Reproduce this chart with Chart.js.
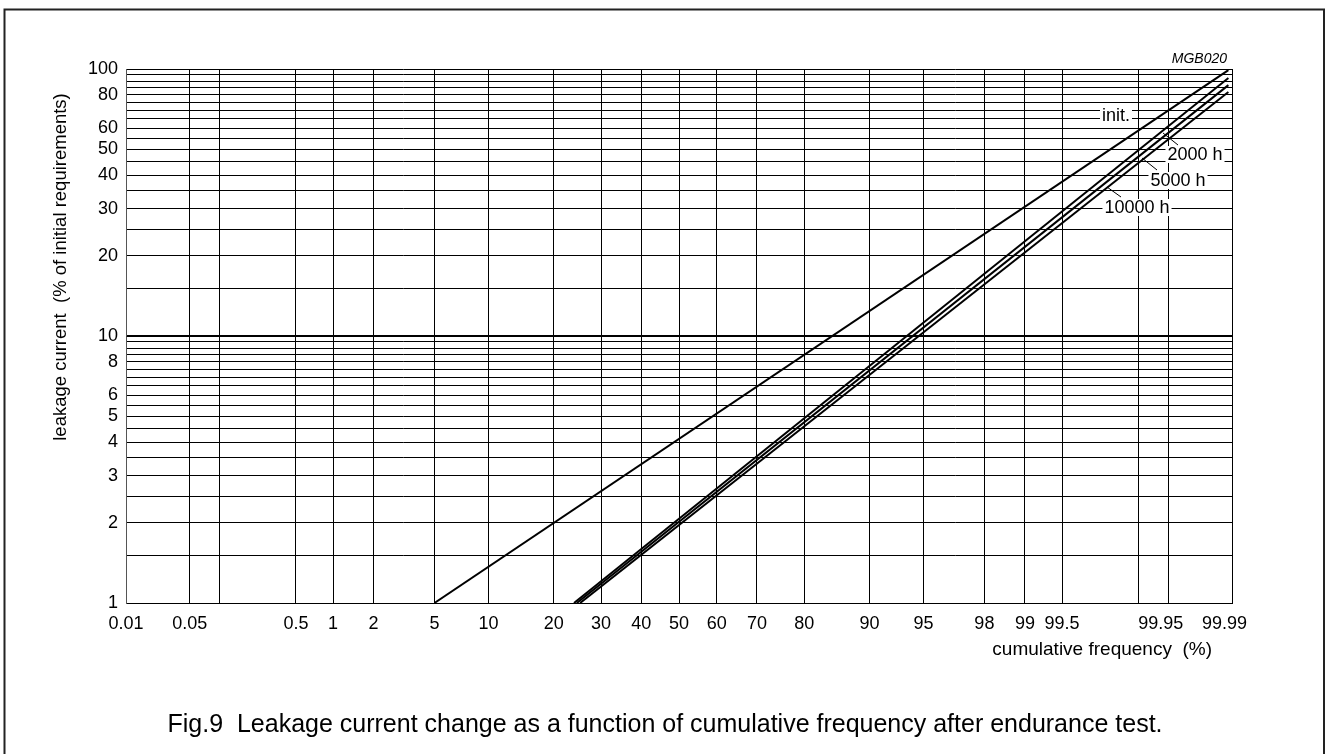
<!DOCTYPE html>
<html>
<head>
<meta charset="utf-8">
<title>Fig.9 Leakage current change</title>
<script src="https://cdn.jsdelivr.net/npm/chart.js@4.4.1/dist/chart.umd.min.js"></script>
<style>
  html, body { margin: 0; padding: 0; background: #fff; }
  canvas { display: block; }
</style>
</head>
<body>
<canvas id="chart" width="1326" height="754"></canvas>
<script>
/* Probability-paper chart: normal-probit x axis, log y axis */

// cumulative frequency (%) where vertical grid lines sit
const xGrid = [0.01, 0.05, 0.1, 0.5, 1, 2, 5, 10, 20, 30, 40, 50, 60, 70, 80, 90, 95, 98, 99, 99.5, 99.9, 99.95, 99.99];
const xLabels = [0.01, 0.05, 0.5, 1, 2, 5, 10, 20, 30, 40, 50, 60, 70, 80, 90, 95, 98, 99, 99.5, 99.95, 99.99];

// leakage current (%) grid lines and labels
const yGrid = [1, 1.5, 2, 2.5, 3, 3.5, 4, 4.5, 5, 5.5, 6, 6.5, 7, 7.5, 8, 8.5, 9, 9.5,
  10, 15, 20, 25, 30, 35, 40, 45, 50, 55, 60, 65, 70, 75, 80, 85, 90, 95, 100];
const yLabels = [1, 2, 3, 4, 5, 6, 8, 10, 20, 30, 40, 50, 60, 80, 100];

// each curve is a straight line on this paper: two end points
const seriesNames = ['init.', '2000 h', '5000 h', '10000 h'];
const startFreq = [5, 24.0, 24.6, 25.3];
const startCurrent = [1, 1, 1, 1];
const endFreq = [99.989, 99.989, 99.989, 99.989];
const endCurrent = [99, 92.5, 87, 82];

// inverse normal CDF (Acklam)
function normInv(p) {
  const a = [-39.69683028665376, 220.9460984245205, -275.9285104469687, 138.3577518672690, -30.66479806614716, 2.506628277459239];
  const b = [-54.47609879822406, 161.5858368580409, -155.6989798598866, 66.80131188771972, -13.28068155288572];
  const c = [-0.007784894002430293, -0.3223964580411365, -2.400758277161838, -2.549732539343734, 4.374664141464968, 2.938163982698783];
  const d = [0.007784695709041462, 0.3224671290700398, 2.445134137142996, 3.754408661907416];
  const lo = 0.02425;
  let q, r;
  if (p < lo) {
    q = Math.sqrt(-2 * Math.log(p));
    return (((((c[0] * q + c[1]) * q + c[2]) * q + c[3]) * q + c[4]) * q + c[5]) / ((((d[0] * q + d[1]) * q + d[2]) * q + d[3]) * q + 1);
  }
  if (p > 1 - lo) {
    q = Math.sqrt(-2 * Math.log(1 - p));
    return -(((((c[0] * q + c[1]) * q + c[2]) * q + c[3]) * q + c[4]) * q + c[5]) / ((((d[0] * q + d[1]) * q + d[2]) * q + d[3]) * q + 1);
  }
  q = p - 0.5;
  r = q * q;
  return (((((a[0] * r + a[1]) * r + a[2]) * r + a[3]) * r + a[4]) * r + a[5]) * q / (((((b[0] * r + b[1]) * r + b[2]) * r + b[3]) * r + b[4]) * r + 1);
}

function normCdf(z) {
  const t = 1 / (1 + 0.2316419 * Math.abs(z));
  const dens = Math.exp(-z * z / 2) / Math.sqrt(2 * Math.PI);
  const tail = dens * t * (0.319381530 + t * (-0.356563782 + t * (1.781477937 + t * (-1.821255978 + t * 1.330274429))));
  return z >= 0 ? 1 - tail : tail;
}

class ProbitScale extends Chart.LinearScale {
  static id = 'probit';
  determineDataLimits() {
    this.min = this.options.min;
    this.max = this.options.max;
  }
  buildTicks() {
    return xGrid.map(v => ({ value: v }));
  }
  configure() {
    super.configure();
    this._zStart = normInv(this.min / 100);
    this._zRange = normInv(this.max / 100) - this._zStart;
  }
  getPixelForValue(value) {
    if (value === null || value === undefined || isNaN(value)) return NaN;
    return this.getPixelForDecimal((normInv(value / 100) - this._zStart) / this._zRange);
  }
  getValueForPixel(pixel) {
    return normCdf(this._zStart + this.getDecimalForPixel(pixel) * this._zRange) * 100;
  }
}
Chart.register(ProbitScale);

Chart.defaults.font.family = "'Liberation Sans', Arial, Helvetica, sans-serif";
Chart.defaults.color = '#000';

// callout labels, offsets from the chart area's top-right corner
const callouts = [
  { text: 'init.', dx: -116, dy: 46 },
  { text: '2000 h', dx: -37, dy: 85, leader: [-69, 64, -54, 76] },
  { text: '5000 h', dx: -54, dy: 111, leader: [-90, 89, -75, 101] },
  { text: '10000 h', dx: -95, dy: 138, leader: [-125, 118, -111, 128] },
];

const paper = {
  id: 'paper',
  beforeDraw(chart) {
    const c = chart.ctx;
    c.save();
    c.fillStyle = '#fff';
    c.fillRect(0, 0, chart.width, chart.height);
    c.restore();
  },
  afterDatasetsDraw(chart) {
    const c = chart.ctx;
    const a = chart.chartArea;
    c.save();
    c.font = "18px 'Liberation Sans', Arial, sans-serif";
    c.textAlign = 'center';
    c.textBaseline = 'middle';
    callouts.forEach(o => {
      const cx = a.right + o.dx;
      const cy = a.top + o.dy;
      const w = c.measureText(o.text).width;
      c.fillStyle = '#fff';
      c.fillRect(cx - w / 2 - 2, cy - 8, w + 4, 17);
      c.fillStyle = '#000';
      c.fillText(o.text, cx, cy + 1);
      if (o.leader) {
        c.strokeStyle = '#000';
        c.lineWidth = 1;
        c.beginPath();
        c.moveTo(a.right + o.leader[0], a.top + o.leader[1]);
        c.lineTo(a.right + o.leader[2], a.top + o.leader[3]);
        c.stroke();
      }
    });
    c.restore();
  },
  afterDraw(chart) {
    const c = chart.ctx;
    const a = chart.chartArea;
    c.save();
    // outer frame
    c.strokeStyle = '#222';
    c.lineWidth = 2;
    c.strokeRect(4.5, 9.5, 1319.5, 760);

    c.fillStyle = '#000';
    c.font = "italic 14px 'Liberation Sans', Arial, sans-serif";
    c.textAlign = 'right';
    c.textBaseline = 'alphabetic';
    c.fillText('MGB020', a.right - 5, a.top - 6);

    c.font = "19px 'Liberation Sans', Arial, sans-serif";
    c.textBaseline = 'middle';
    c.fillText('cumulative frequency  (%)', a.right - 20, a.bottom + 47);

    c.save();
    c.translate(61, a.top + 198);
    c.rotate(-Math.PI / 2);
    c.textAlign = 'center';
    c.font = "18.5px 'Liberation Sans', Arial, sans-serif";
    c.fillText('leakage current  (% of initial requirements)', 0, 0);
    c.restore();

    c.textAlign = 'center';
    c.font = "25px 'Liberation Sans', Arial, sans-serif";
    c.fillText('Fig.9  Leakage current change as a function of cumulative frequency after endurance test.', 665, a.bottom + 122);
    c.restore();
  },
};

function buildDatasets() {
  return seriesNames.map((name, i) => ({
    label: name,
    data: [
      { x: startFreq[i], y: startCurrent[i] },
      { x: endFreq[i], y: endCurrent[i] },
    ],
    borderColor: '#000',
    borderWidth: 2,
    pointRadius: 0,
    tension: 0,
    fill: false,
  }));
}

function init() {
  const ctx = document.getElementById('chart');
  new Chart(ctx, {
    type: 'line',
    data: { datasets: buildDatasets() },
    options: {
      responsive: false,
      animation: false,
      devicePixelRatio: 1,
      layout: { padding: { top: 69, right: 94, left: 0, bottom: 0 } },
      plugins: {
        legend: { display: false },
        tooltip: { enabled: false },
      },
      scales: {
        x: {
          type: 'probit',
          min: 0.01,
          max: 99.99,
          afterFit: s => { s.height = 151; },
          grid: { color: '#000', lineWidth: 1, drawTicks: false },
          border: { display: true, color: '#000', width: 1 },
          ticks: {
            autoSkip: false,
            maxRotation: 0,
            minRotation: 0,
            padding: 10,
            font: { size: 18 },
            color: '#000',
            callback: v => {
              if (!xLabels.includes(v)) return '';
              return v >= 99.95 ? String(v) + '   ' : String(v);
            },
          },
        },
        y: {
          type: 'logarithmic',
          min: 1,
          max: 100,
          afterBuildTicks: s => { s.ticks = yGrid.map(v => ({ value: v })); },
          afterFit: s => { s.width = 126; },
          grid: {
            color: '#000',
            lineWidth: c => (c.tick && c.tick.value === 10 ? 2 : 1),
            drawTicks: false,
          },
          border: { display: true, color: '#555', width: 1 },
          ticks: {
            autoSkip: false,
            padding: 8,
            font: { size: 18 },
            color: '#000',
            callback: v => (yLabels.includes(v) ? String(v) : ''),
          },
        },
      },
    },
    plugins: [paper],
  });
}

document.addEventListener('DOMContentLoaded', init);
</script>
</body>
</html>
